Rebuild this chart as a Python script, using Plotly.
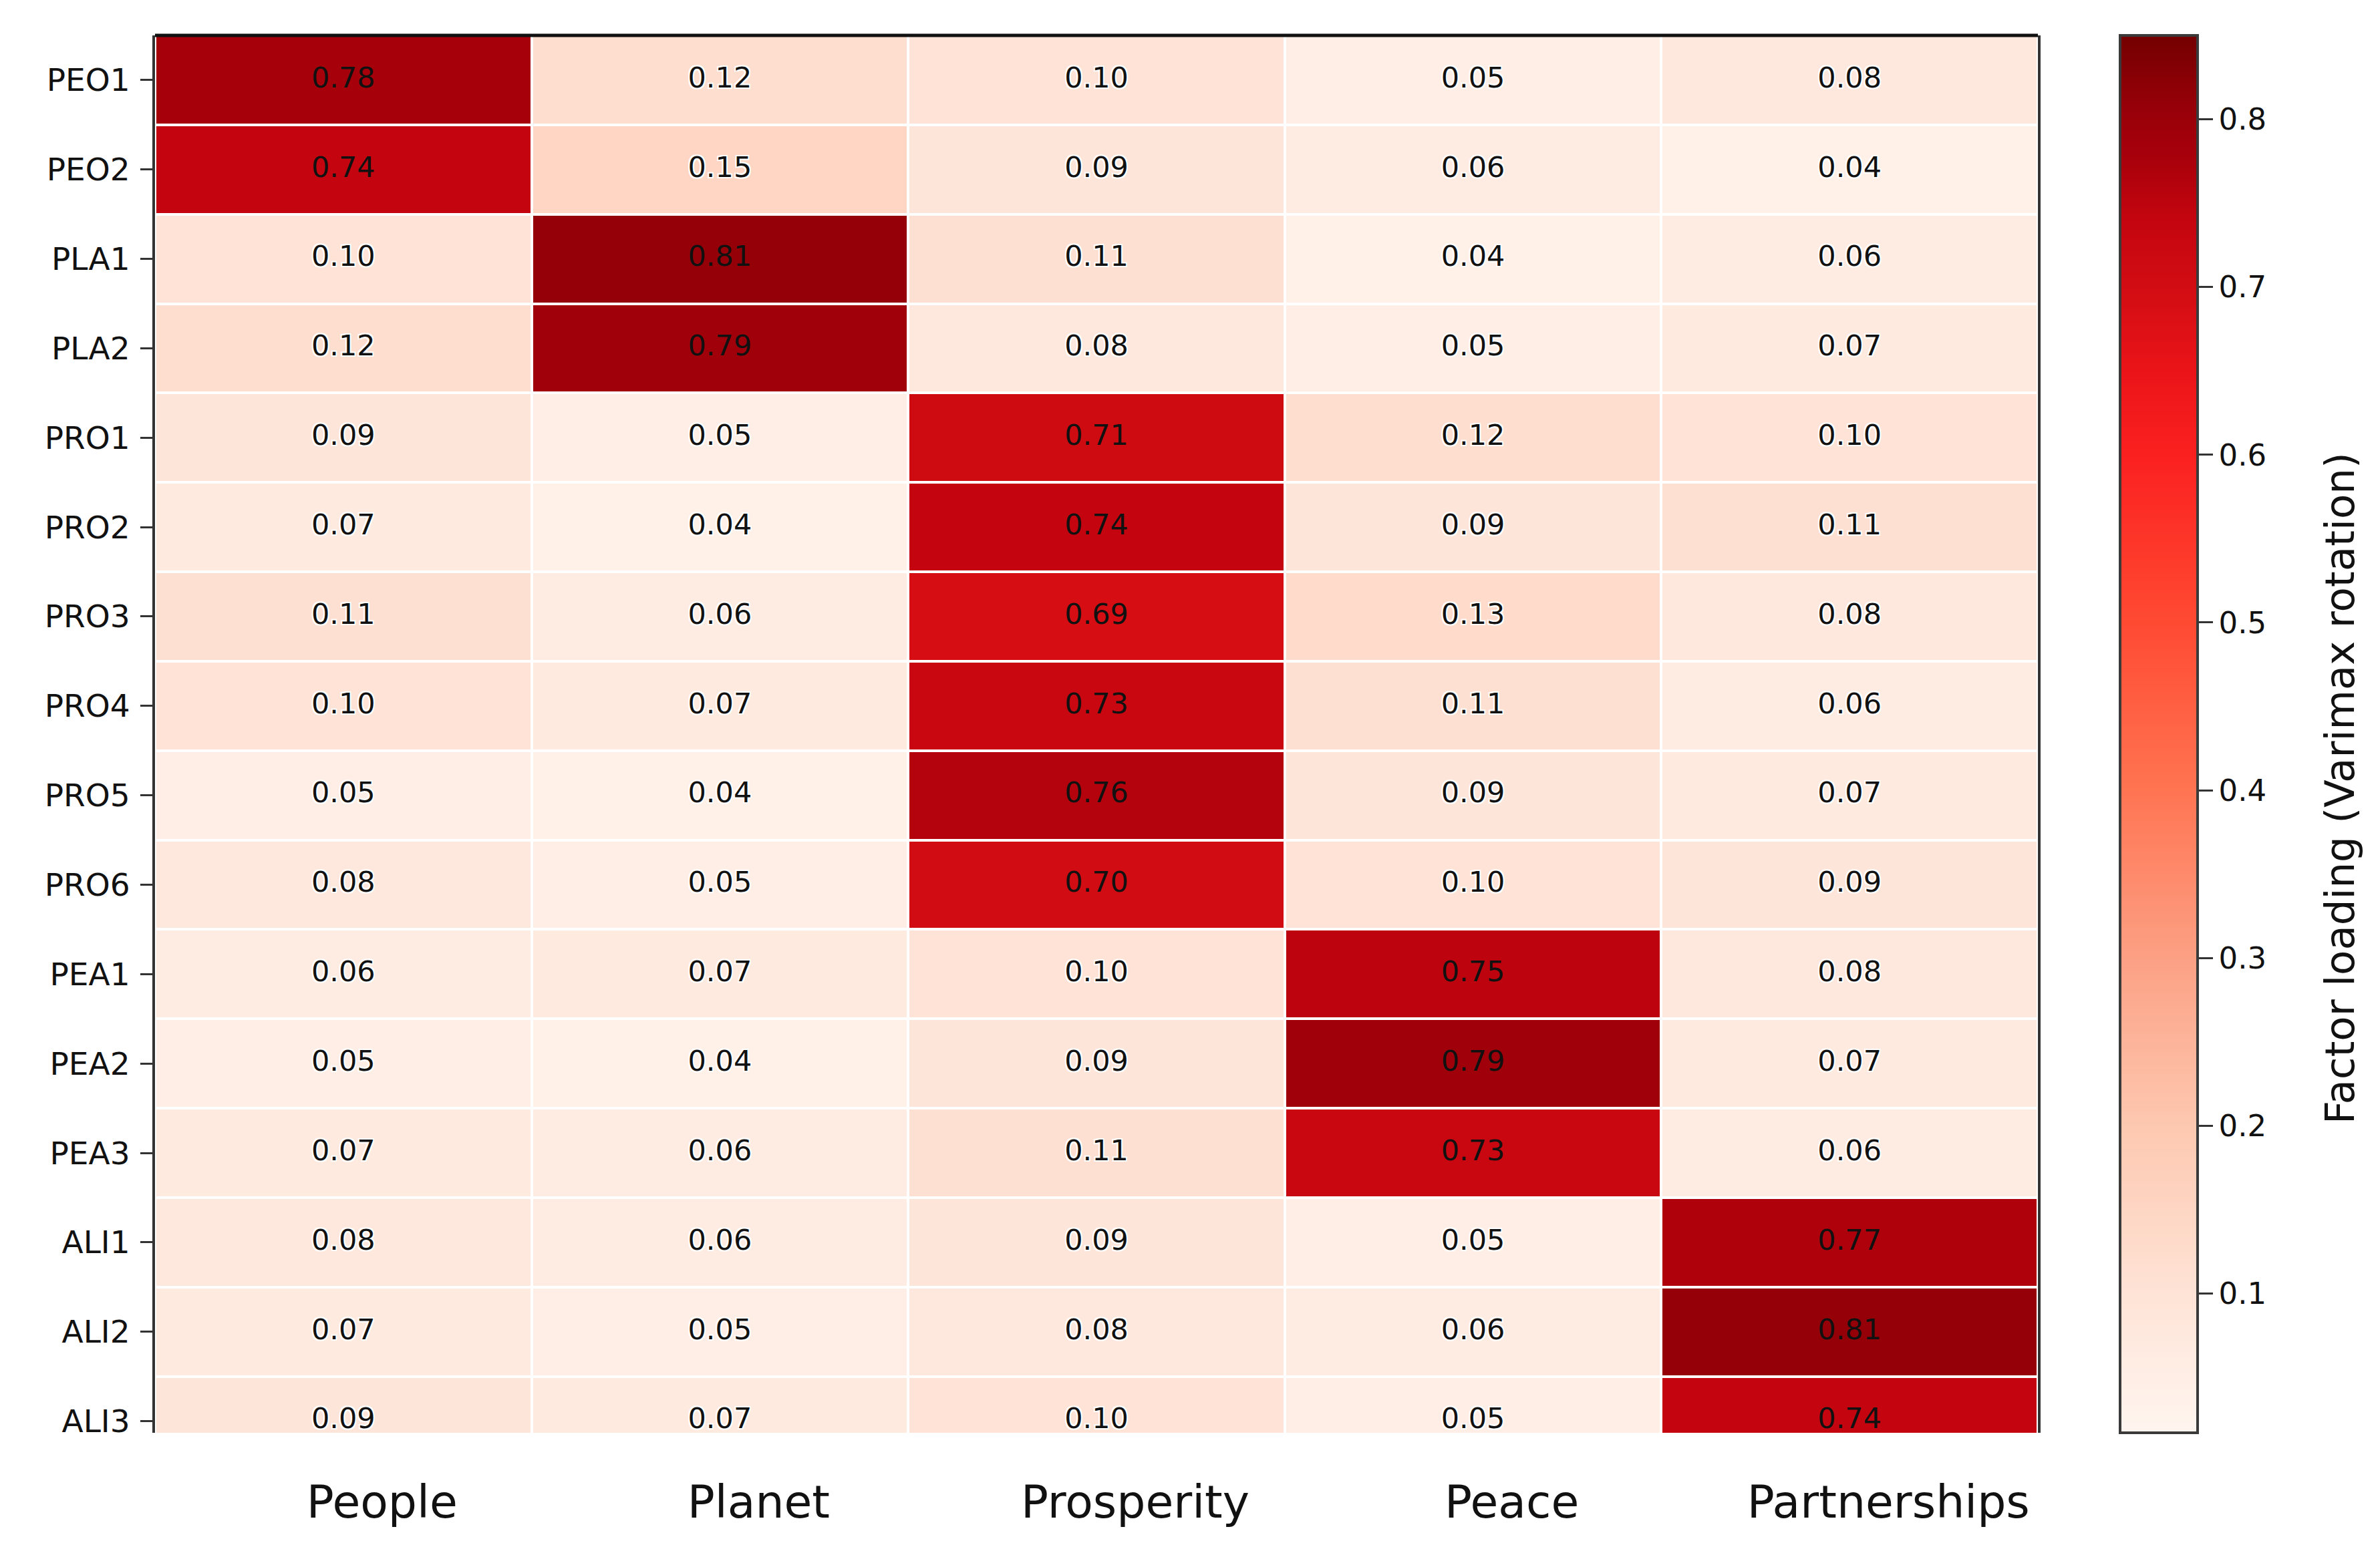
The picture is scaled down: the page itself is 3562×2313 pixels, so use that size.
import plotly.graph_objects as go

# ---- data ----
items = ["PEO1", "PEO2", "PLA1", "PLA2", "PRO1", "PRO2", "PRO3", "PRO4",
         "PRO5", "PRO6", "PEA1", "PEA2", "PEA3", "ALI1", "ALI2", "ALI3"]
factors = ["People", "Planet", "Prosperity", "Peace", "Partnerships"]

people = [0.78, 0.74, 0.10, 0.12, 0.09, 0.07, 0.11, 0.10, 0.05, 0.08, 0.06, 0.05, 0.07, 0.08, 0.07, 0.09]
planet = [0.12, 0.15, 0.81, 0.79, 0.05, 0.04, 0.06, 0.07, 0.04, 0.05, 0.07, 0.04, 0.06, 0.06, 0.05, 0.07]
prosperity = [0.10, 0.09, 0.11, 0.08, 0.71, 0.74, 0.69, 0.73, 0.76, 0.70, 0.10, 0.09, 0.11, 0.09, 0.08, 0.10]
peace = [0.05, 0.06, 0.04, 0.05, 0.12, 0.09, 0.13, 0.11, 0.09, 0.10, 0.75, 0.79, 0.73, 0.05, 0.06, 0.05]
partnerships = [0.08, 0.04, 0.06, 0.07, 0.10, 0.11, 0.08, 0.06, 0.07, 0.09, 0.08, 0.07, 0.06, 0.77, 0.81, 0.74]

cbar_ticks = [0.1, 0.2, 0.3, 0.4, 0.5, 0.6, 0.7, 0.8]
cbar_title = "Factor loading (Varimax rotation)"

# ---- build matrix ----
columns = [people, planet, prosperity, peace, partnerships]
z = [[columns[j][i] for j in range(len(factors))] for i in range(len(items))]

ZMIN, ZMAX = 0.017, 0.85
colorscale = [
    [0.0, "#fff5ef"],
    [0.0996, "#fee3d6"],
    [0.22, "#fdc8b0"],
    [0.34, "#fca084"],
    [0.46, "#ff7452"],
    [0.58, "#ff4a32"],
    [0.70, "#fb2020"],
    [0.76, "#ea1418"],
    [0.81, "#d50e14"],
    [0.868, "#c4050f"],
    [0.916, "#a6000b"],
    [0.952, "#950008"],
    [1.0, "#730000"],
]

FONT = "DejaVu Sans"

fig = go.Figure()
fig.add_trace(go.Heatmap(
    z=z, x=factors, y=items,
    zmin=ZMIN, zmax=ZMAX,
    colorscale=colorscale,
    xgap=4, ygap=4,
    hoverinfo="skip",
    colorbar=dict(
        x=1.0437, xanchor="left", xref="paper",
        y=0.5, yanchor="middle", len=1.0, lenmode="fraction",
        thickness=116, thicknessmode="pixels",
        xpad=0, ypad=0,
        outlinewidth=4, outlinecolor="#3a3a3a",
        tickvals=cbar_ticks,
        ticktext=[f"{v:.1f}" for v in cbar_ticks],
        ticks="outside", ticklen=21, tickwidth=3, tickcolor="#333",
        tickfont=dict(family=FONT, size=45, color="#111"),
    ),
))

# cell labels
lx, ly, lt, dx, dy, dt = [], [], [], [], [], []
for i, it in enumerate(items):
    for j, f in enumerate(factors):
        v = columns[j][i]
        if v < 0.5:
            lx.append(f); ly.append(it); lt.append(f"{v:.2f}")
        else:
            dx.append(f); dy.append(it); dt.append(f"{v:.2f}")

halo = "-2px -2px 0 #fff, 2px -2px 0 #fff, -2px 2px 0 #fff, 2px 2px 0 #fff, 0 0 3px #fff"
fig.add_trace(go.Scatter(x=lx, y=ly, text=lt, mode="text", hoverinfo="skip",
                         showlegend=False,
                         textfont=dict(family=FONT, size=43, color="#111", shadow=halo)))
fig.add_trace(go.Scatter(x=dx, y=dy, text=dt, mode="text", hoverinfo="skip",
                         showlegend=False,
                         textfont=dict(family=FONT, size=43, color="#111")))

W, H = 3562, 2313
L, R, T, B = 224, W - 3042, 45, H - 2137

fig.update_layout(
    width=W, height=H,
    margin=dict(l=L, r=R, t=T, b=B, pad=0),
    paper_bgcolor="white", plot_bgcolor="white",
    showlegend=False,
    xaxis=dict(
        type="category", categoryorder="array", categoryarray=factors,
        range=[-0.5, 4.5], showgrid=False, zeroline=False,
        showline=False, ticks="",
        tickfont=dict(family=FONT, size=68, color="#111"),
        ticklabelstandoff=58, ticklabelshift=58,
        fixedrange=True,
    ),
    yaxis=dict(
        type="category", categoryorder="array", categoryarray=items,
        range=[15.13, -0.5], showgrid=False, zeroline=False,
        showline=True, linewidth=4, linecolor="#333", mirror=True,
        ticks="outside", ticklen=18, tickwidth=3, tickcolor="#333",
        tickfont=dict(family=FONT, size=47, color="#111"),
        ticklabelstandoff=6,
        fixedrange=True,
    ),
    shapes=[dict(type="line", xref="paper", yref="paper", x0=0, x1=1, y0=1, y1=1,
                 line=dict(color="#111", width=5), layer="above")],
    annotations=[dict(
        text=cbar_title, textangle=-90, showarrow=False,
        xref="paper", yref="paper", x=1.1604, y=0.4613,
        xanchor="center", yanchor="middle",
        font=dict(family=FONT, size=61, color="#111"),
    )],
)

fig.write_html("out.html")
